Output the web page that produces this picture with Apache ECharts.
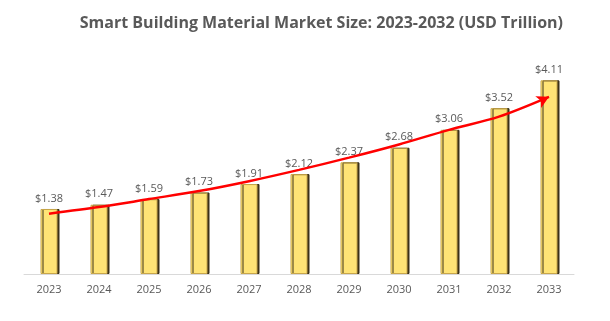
<!DOCTYPE html>
<html>
<head>
<meta charset="utf-8">
<script src="https://cdn.jsdelivr.net/npm/echarts@6/dist/echarts.min.js"></script>
<style>
  html, body { margin: 0; padding: 0; background: #ffffff; }
  #chart { width: 610px; height: 321px; }
</style>
</head>
<body>
<div id="chart"></div>
<script>
// Market size by year, USD trillion
const years = ['2023', '2024', '2025', '2026', '2027', '2028', '2029', '2030', '2031', '2032', '2033'];
const marketSize = [1.38, 1.47, 1.59, 1.73, 1.91, 2.12, 2.37, 2.68, 3.06, 3.52, 4.11];
// Growth trend arrow drawn across the bars
const trendLine = [1.28, 1.42, 1.59, 1.76, 1.97, 2.21, 2.47, 2.75, 3.06, 3.34, 3.76];

const chart = echarts.init(document.getElementById('chart'), null, { renderer: 'canvas' });

const textColor = '#595959';
const fontFamily = '"Open Sans", "Noto Sans", sans-serif';

chart.setOption({
  animation: false,
  backgroundColor: '#ffffff',
  title: {
    text: 'Smart Building Material Market Size: 2023-2032 (USD Trillion)',
    right: 42,
    top: 10,
    textStyle: {
      color: textColor,
      fontFamily: fontFamily,
      fontWeight: 'bold',
      fontSize: 16
    }
  },
  grid: { left: 24, right: 36, top: 62, bottom: 47 },
  xAxis: {
    type: 'category',
    data: years,
    axisLine: { lineStyle: { color: '#d9d9d9', width: 1 } },
    axisTick: { show: false },
    axisLabel: { color: textColor, fontFamily: fontFamily, fontSize: 11, margin: 10 }
  },
  yAxis: {
    type: 'value',
    min: 0,
    max: 4.5,
    show: false,
    splitLine: { show: false }
  },
  series: [
    {
      type: 'bar',
      data: marketSize,
      barWidth: 17,
      itemStyle: {
        color: '#ffe476',
        borderColor: '#c9a74a',
        borderWidth: 1,
        shadowColor: '#3d3319',
        shadowOffsetX: 2,
        shadowOffsetY: 0,
        shadowBlur: 0
      },
      label: {
        show: true,
        position: 'top',
        distance: 5,
        color: textColor,
        fontFamily: fontFamily,
        fontSize: 11,
        formatter: p => '$' + p.value.toFixed(2)
      }
    },
    {
      type: 'line',
      data: trendLine.map((v, i) => i === trendLine.length - 1
        ? { value: v, symbol: 'arrow', symbolSize: [10, 12], symbolRotate: -64 }
        : { value: v, symbol: 'none' }),
      smooth: 0.3,
      showSymbol: true,
      lineStyle: { color: '#ff0000', width: 2.5 },
      itemStyle: { color: '#ff0000' },
      z: 5
    }
  ]
});
</script>
</body>
</html>
